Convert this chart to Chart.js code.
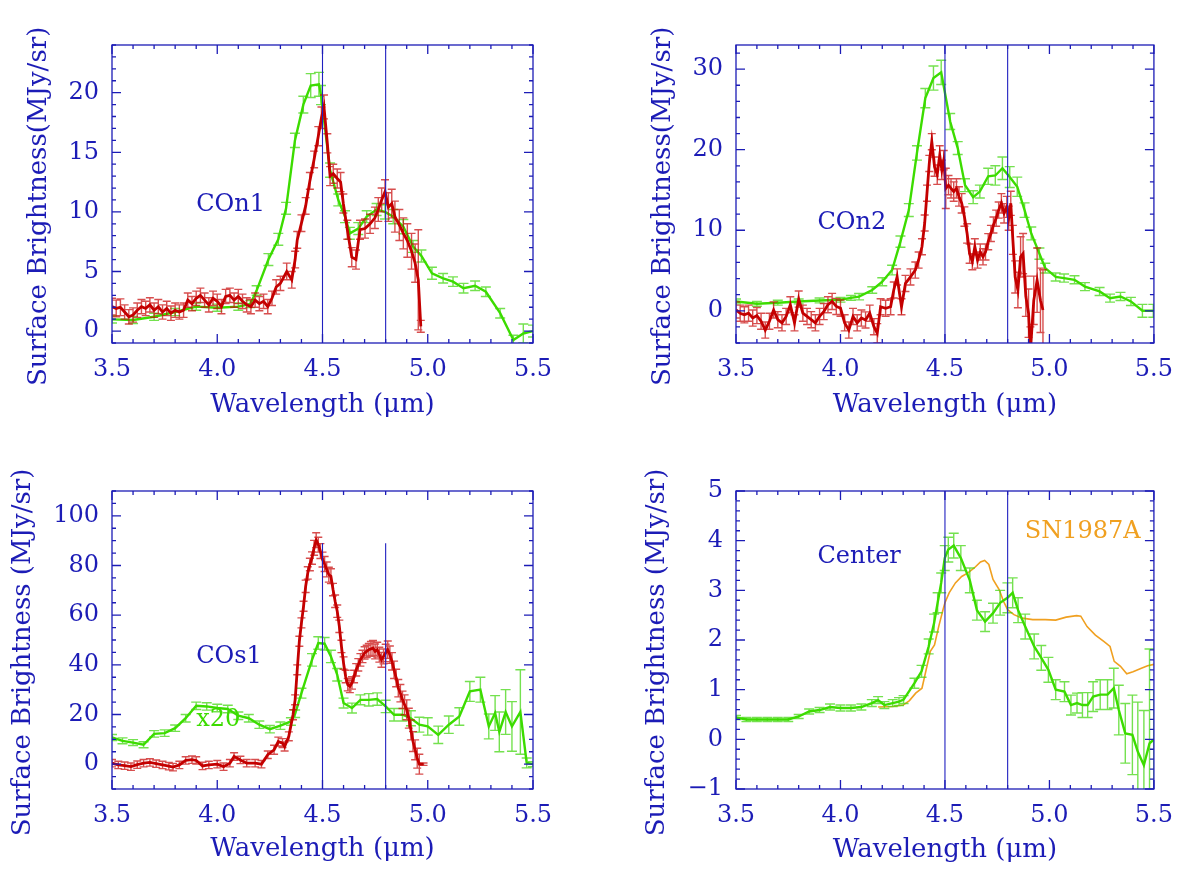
<!DOCTYPE html>
<html><head><meta charset="utf-8">
<script src="https://cdn.jsdelivr.net/npm/chart.js@4.4.1/dist/chart.umd.min.js"></script>
<style>
html,body{margin:0;padding:0;background:#fff;}
#wrap{position:relative;width:1185px;height:871px;overflow:hidden;background:#fff;}
canvas{position:absolute;}
</style></head><body>
<div id="wrap">
<canvas id="cTL" width="592" height="435" style="left:0px;top:0px"></canvas>
<canvas id="cTR" width="593" height="435" style="left:592px;top:0px"></canvas>
<canvas id="cBL" width="592" height="436" style="left:0px;top:435px"></canvas>
<canvas id="cBR" width="593" height="436" style="left:592px;top:435px"></canvas>
</div>
<script>
// ---------------- data: [wavelength (um), surface brightness, error] ----------------
const xTickValues = [3.5, 4.0, 4.5, 5.0, 5.5];
const con1YTicks = [0, 5, 10, 15, 20];
const con2YTicks = [0, 10, 20, 30];
const cos1YTicks = [0, 20, 40, 60, 80, 100];
const centerYTicks = [-1, 0, 1, 2, 3, 4, 5];
const markerWavelengths = [4.5, 4.8];
const cos1MarkerTop = 89;

const con1Green = [
 [3.50,0.98,0.3],[3.60,0.93,0.3],[3.70,1.2,0.3],[3.80,1.6,0.3],[3.90,2.05,0.3],[4.00,1.96,0.3],
 [4.10,2.05,0.3],[4.157,2.27,0.3],[4.187,3.4,0.4],[4.243,6.0,0.5],[4.29,7.7,0.5],[4.327,10.3,0.5],
 [4.369,16.0,0.6],[4.409,19.0,0.7],[4.444,20.6,1.0],[4.483,20.7,1.0],[4.493,19.8,0.8],[4.536,13.5,0.6],
 [4.575,11.0,0.5],[4.607,9.6,0.5],[4.63,8.2,0.5],[4.67,8.6,0.5],[4.71,9.6,0.5],[4.757,10.2,0.5],
 [4.797,10.0,0.6],[4.836,9.6,0.6],[4.884,8.76,0.6],[4.93,7.1,0.5],[4.97,6.3,0.5],[5.02,4.85,0.5],
 [5.073,4.43,0.4],[5.12,4.15,0.4],[5.17,3.6,0.4],[5.225,3.8,0.4],[5.276,3.3,0.4],[5.344,1.5,0.4],
 [5.407,-0.75,0.4],[5.454,-0.2,0.8],[5.50,0,0.5]
];
const con1Red = [
 [3.50,2.05,0.7],[3.52,1.9,0.7],[3.54,2.0,0.7],[3.56,1.6,0.6],[3.58,1.2,0.6],[3.60,1.35,0.6],
 [3.62,1.75,0.6],[3.64,2.05,0.6],[3.66,1.9,0.6],[3.68,2.2,0.6],[3.70,1.75,0.6],[3.72,2.05,0.6],
 [3.74,1.6,0.6],[3.76,1.9,0.6],[3.78,1.5,0.6],[3.80,1.75,0.6],[3.82,1.6,0.6],[3.84,1.75,0.6],
 [3.86,2.6,0.6],[3.88,2.3,0.6],[3.90,2.75,0.6],[3.92,3.0,0.6],[3.94,2.6,0.6],[3.96,2.2,0.6],
 [3.98,2.75,0.6],[4.00,2.5,0.6],[4.02,2.05,0.6],[4.04,2.9,0.6],[4.06,3.0,0.6],[4.08,2.6,0.6],
 [4.10,2.9,0.6],[4.12,2.5,0.6],[4.14,2.2,0.6],[4.16,2.05,0.6],[4.18,2.6,0.6],[4.20,2.3,0.6],
 [4.22,2.5,0.6],[4.24,2.05,0.6],[4.26,2.75,0.6],[4.28,3.7,0.6],[4.30,4.0,0.6],[4.33,5.0,0.7],
 [4.354,4.3,0.7],[4.37,6.0,0.7],[4.38,7.65,0.7],[4.40,9.05,0.7],[4.42,10.5,0.7],[4.44,12.6,0.7],
 [4.46,14.4,0.7],[4.48,16.35,0.8],[4.495,17.9,0.9],[4.507,18.8,1.0],[4.523,15.75,0.8],[4.536,13.0,0.8],
 [4.551,13.2,0.8],[4.57,12.8,0.8],[4.586,12.5,0.8],[4.599,10.7,0.8],[4.618,8.5,0.8],[4.639,6.2,0.8],
 [4.659,6.0,0.8],[4.678,8.5,0.8],[4.702,8.6,0.8],[4.726,9.0,0.8],[4.749,9.5,0.9],[4.765,10.2,1.0],
 [4.781,11.0,1.0],[4.797,11.7,1.0],[4.813,10.4,1.2],[4.829,10.7,1.2],[4.844,9.6,1.3],[4.865,8.9,1.3],
 [4.884,8.2,1.3],[4.903,7.6,1.4],[4.923,6.7,1.5],[4.94,5.7,1.6],[4.955,4.3,4.2],[4.967,0.4,0.5]
];
const con2Green = [
 [3.50,1.16,0.3],[3.60,0.87,0.3],[3.70,1.0,0.3],[3.80,1.16,0.3],[3.90,1.28,0.3],[4.00,1.37,0.3],
 [4.05,1.6,0.3],[4.089,1.75,0.4],[4.152,2.58,0.4],[4.2,3.61,0.5],[4.247,5.06,0.6],[4.287,8.58,0.7],
 [4.327,12.5,0.8],[4.366,19.6,0.9],[4.406,26.4,1.2],[4.445,28.9,1.5],[4.482,29.6,1.5],[4.525,23.5,1.0],
 [4.561,20.2,0.8],[4.596,15.6,0.8],[4.635,14.1,0.8],[4.667,14.8,0.8],[4.707,16.7,1.0],[4.741,16.8,1.2],
 [4.775,17.7,1.4],[4.81,16.6,1.3],[4.846,15.4,1.2],[4.881,12.5,0.9],[4.913,9.6,0.8],[4.952,7.1,0.7],
 [4.98,5.3,0.6],[5.03,4.2,0.5],[5.07,4.06,0.5],[5.12,3.85,0.5],[5.17,3.0,0.5],[5.24,2.4,0.5],
 [5.29,1.57,0.5],[5.34,1.78,0.5],[5.39,1.16,0.5],[5.445,0,0.8],[5.497,0,0.8]
];
const con2Red = [
 [3.50,0.1,1.0],[3.52,-0.3,1.0],[3.54,-0.5,1.0],[3.56,-0.3,1.0],[3.58,-0.9,1.0],[3.60,-0.6,1.0],
 [3.62,-1.3,1.0],[3.64,-2.4,1.0],[3.66,-1.3,1.0],[3.68,0.1,1.0],[3.70,-1.1,1.0],[3.72,-1.5,1.0],
 [3.74,-0.7,1.0],[3.76,0.75,1.0],[3.78,-1.5,1.0],[3.80,1.45,1.0],[3.82,-0.3,1.0],[3.84,-0.7,1.0],
 [3.86,-1.1,1.0],[3.88,-1.5,1.0],[3.90,-0.7,1.0],[3.92,-0.1,1.0],[3.94,0.75,1.0],[3.96,1.16,1.0],
 [3.98,0.54,1.0],[4.00,0.33,1.0],[4.02,-1.5,1.0],[4.04,-2.4,1.0],[4.06,-0.7,1.0],[4.08,-1.5,1.0],
 [4.10,-0.9,1.0],[4.12,-1.14,1.0],[4.14,-0.3,1.0],[4.16,-1.97,1.0],[4.176,-2.8,1.2],[4.192,0.5,1.0],
 [4.216,0.3,1.0],[4.24,0.5,1.0],[4.255,2.58,1.0],[4.271,4.2,1.0],[4.292,0.5,1.0],[4.311,3.4,1.0],
 [4.335,4.2,1.0],[4.358,5.06,1.0],[4.374,6.3,1.0],[4.39,7.95,1.0],[4.403,10.9,1.0],[4.414,14.6,1.0],
 [4.425,18.3,1.0],[4.437,21.0,1.0],[4.45,17.9,1.2],[4.463,16.9,1.2],[4.475,19.3,1.2],[4.485,17.5,1.2],
 [4.494,18.7,1.2],[4.504,15.2,2.5],[4.517,15.6,1.2],[4.529,15.2,1.2],[4.542,14.8,1.2],[4.555,15.2,1.2],
 [4.567,14.2,1.2],[4.58,13.35,1.2],[4.593,11.7,1.2],[4.606,9.6,1.2],[4.618,7.1,1.2],[4.631,6.1,1.0],
 [4.643,7.95,1.0],[4.656,6.3,1.0],[4.669,7.3,1.0],[4.682,6.7,1.0],[4.694,7.3,1.0],[4.707,8.58,1.0],
 [4.72,9.6,1.0],[4.732,10.65,1.0],[4.745,11.5,1.0],[4.757,12.5,1.0],[4.77,13.35,1.2],[4.783,12.1,1.2],
 [4.796,12.9,1.3],[4.805,11.5,1.5],[4.815,13.35,1.5],[4.825,8.8,1.8],[4.836,4.2,2.0],[4.849,2.58,2.2],
 [4.862,6.7,2.5],[4.874,7.1,2.5],[4.887,1.8,2.5],[4.9,-0.3,3.0],[4.909,-5.0,3.0],[4.925,1.3,3.0],
 [4.941,3.8,4.0],[4.957,1.3,4.0],[4.969,0.1,5.0]
];
const cos1Green = [
 [3.50,10.75,1.2],[3.55,9.4,1.2],[3.60,8.7,1.2],[3.65,7.8,1.2],[3.70,12.2,1.3],[3.75,12.5,1.3],
 [3.80,14.5,1.3],[3.85,18.5,1.5],[3.90,23.5,1.5],[3.95,23.25,1.5],[4.00,22.6,1.5],[4.05,22.2,1.5],
 [4.10,19.5,1.5],[4.15,18.5,1.5],[4.20,15.9,1.5],[4.25,14.1,1.5],[4.30,15.5,1.5],[4.35,17.2,1.5],
 [4.37,20.3,1.5],[4.40,28.6,2.0],[4.45,42.0,2.5],[4.48,48.8,2.5],[4.51,48.5,2.5],[4.54,43.4,2.5],
 [4.57,36.0,2.5],[4.60,24.6,2.0],[4.64,22.6,2.0],[4.68,25.9,2.0],[4.72,25.9,2.5],[4.76,26.2,2.5],
 [4.80,23.25,2.5],[4.84,19.9,2.5],[4.88,19.9,2.5],[4.92,18.5,3.0],[4.96,15.9,3.0],[5.00,15.2,3.5],
 [5.05,11.8,3.5],[5.10,15.9,3.5],[5.15,19.2,3.5],[5.20,29.3,4.0],[5.25,30.0,5.0],[5.29,15.2,5.0],
 [5.32,20.6,7.0],[5.34,13.0,8.0],[5.37,21.0,9.0],[5.40,15.2,10.0],[5.44,21.0,17.0],[5.47,0.5,2.0],
 [5.50,0,1.0]
];
const cos1Red = [
 [3.50,0.4,1.5],[3.53,-0.3,1.5],[3.56,-0.6,1.5],[3.59,-1.0,1.5],[3.62,-0.2,1.5],[3.65,0.4,1.5],
 [3.68,0.7,1.5],[3.71,0.2,1.5],[3.74,-0.3,1.5],[3.77,-0.8,1.5],[3.79,-1.2,1.5],[3.82,-0.3,1.5],
 [3.85,1.5,1.5],[3.88,1.8,1.5],[3.90,1.5,1.5],[3.93,-0.7,1.5],[3.96,-0.3,1.5],[4.00,0,1.5],
 [4.03,-1.0,1.5],[4.06,0.4,1.5],[4.08,3.1,1.5],[4.11,1.7,1.5],[4.14,0.4,1.5],[4.18,0.4,1.5],
 [4.21,0,1.5],[4.24,3.8,1.5],[4.27,5.8,1.8],[4.29,9.1,1.8],[4.31,8.5,1.8],[4.32,7.1,1.8],
 [4.34,11.2,1.8],[4.36,19.9,2.0],[4.37,25.9,2.0],[4.38,38.0,2.0],[4.39,49.5,2.0],[4.40,56.9,2.0],
 [4.41,63.6,2.0],[4.42,71.6,2.5],[4.43,77.0,2.5],[4.44,80.4,2.5],[4.45,83.0,2.5],[4.46,87.1,3.0],
 [4.47,90.2,3.0],[4.48,88.4,3.0],[4.49,85.8,3.0],[4.50,82.4,3.0],[4.51,80.6,3.0],[4.52,78.4,3.0],
 [4.53,76.3,3.0],[4.54,75.7,3.0],[4.55,70.3,2.5],[4.56,65.6,2.5],[4.57,61.6,2.5],[4.58,55.5,2.5],
 [4.59,47.4,2.5],[4.60,40.7,2.5],[4.61,35.3,2.5],[4.62,32.0,2.5],[4.63,31.3,2.5],[4.64,32.7,2.5],
 [4.65,35.3,2.5],[4.66,38.0,2.5],[4.67,40.0,2.5],[4.68,42.0,2.5],[4.69,43.4,2.5],[4.70,44.8,2.5],
 [4.71,45.4,2.5],[4.72,46.1,2.5],[4.73,46.4,3.0],[4.74,46.8,3.0],[4.75,45.4,3.0],[4.76,46.1,3.0],
 [4.77,44.1,3.0],[4.78,42.0,3.0],[4.79,43.4,3.0],[4.80,44.8,3.5],[4.81,46.1,3.5],[4.82,44.1,3.5],
 [4.83,41.4,3.5],[4.84,38.0,3.5],[4.85,34.7,3.5],[4.86,30.6,3.5],[4.87,28.6,3.5],[4.88,25.9,3.5],
 [4.89,23.9,4.0],[4.90,21.9,4.0],[4.91,18.5,4.0],[4.92,13.8,4.0],[4.93,9.1,4.0],[4.94,5.8,4.0],
 [4.95,2.4,4.0],[4.96,0,4.0],[4.98,0,0.5]
];
const centerGreen = [
 [3.50,0.44,0.04],[3.55,0.40,0.04],[3.60,0.40,0.04],[3.65,0.40,0.04],[3.70,0.40,0.04],[3.75,0.40,0.04],
 [3.80,0.46,0.04],[3.85,0.56,0.05],[3.90,0.59,0.05],[3.95,0.65,0.06],[4.00,0.63,0.06],[4.05,0.63,0.06],
 [4.10,0.65,0.06],[4.15,0.73,0.07],[4.18,0.79,0.07],[4.21,0.69,0.07],[4.25,0.73,0.07],[4.28,0.76,0.08],
 [4.302,0.80,0.08],[4.354,1.13,0.1],[4.388,1.37,0.12],[4.422,1.87,0.15],[4.448,2.34,0.18],[4.465,2.75,0.2],
 [4.482,3.15,0.2],[4.499,3.65,0.25],[4.516,3.82,0.25],[4.542,3.9,0.25],[4.576,3.65,0.25],[4.619,3.2,0.25],
 [4.653,2.6,0.2],[4.692,2.37,0.2],[4.73,2.54,0.2],[4.764,2.75,0.25],[4.799,2.85,0.3],[4.824,2.95,0.3],
 [4.85,2.6,0.25],[4.884,2.27,0.25],[4.927,1.87,0.25],[4.961,1.64,0.25],[4.995,1.4,0.25],[5.03,1.0,0.2],
 [5.072,0.96,0.2],[5.103,0.69,0.2],[5.132,0.73,0.2],[5.158,0.69,0.25],[5.183,0.69,0.25],[5.209,0.86,0.3],
 [5.243,0.9,0.3],[5.278,0.9,0.3],[5.308,1.03,0.4],[5.332,0.59,0.5],[5.363,0.12,0.6],[5.397,0.09,0.8],
 [5.423,-0.25,1.0],[5.452,-0.52,1.1],[5.479,-0.08,1.9],[5.50,0,1.0]
];
const sn1987a = [
 [4.18,0.65],[4.25,0.66],[4.30,0.69],[4.33,0.78],[4.36,0.93],[4.39,1.03],[4.41,1.4],[4.43,1.77],
 [4.45,1.9],[4.47,2.27],[4.49,2.6],[4.50,2.75],[4.52,2.95],[4.55,3.15],[4.58,3.28],[4.61,3.35],
 [4.64,3.45],[4.67,3.57],[4.69,3.6],[4.71,3.52],[4.73,3.22],[4.76,3.01],[4.78,2.78],[4.80,2.61],
 [4.83,2.51],[4.87,2.44],[4.92,2.41],[4.98,2.41],[5.03,2.4],[5.08,2.46],[5.13,2.49],[5.15,2.48],
 [5.18,2.27],[5.22,2.1],[5.26,1.97],[5.29,1.87],[5.31,1.57],[5.34,1.47],[5.37,1.32],[5.40,1.36],
 [5.44,1.43],[5.47,1.48],[5.50,1.51]
];

// ---------------- styling ----------------
const BLUE = '#1c1cb6';
const RED = '#c40000';
const GREEN = '#3cdc00';
const ORANGE = '#f0a020';
const FONT = '"DejaVu Serif", serif';

const errorBars = {
  id: 'errorBars',
  beforeDatasetDraw(chart, args) {
    const ds = chart.data.datasets[args.index];
    if (!ds.errors) return;
    const {ctx, chartArea: a, scales: {x, y}} = chart;
    ctx.save();
    ctx.beginPath(); ctx.rect(a.left, a.top, a.right - a.left, a.bottom - a.top); ctx.clip();
    ctx.strokeStyle = ds.errColor; ctx.lineWidth = 1.4;
    ctx.beginPath();
    ds.data.forEach((p, i) => {
      const e = ds.errors[i];
      const px = x.getPixelForValue(p.x);
      const y1 = y.getPixelForValue(p.y - e), y2 = y.getPixelForValue(p.y + e);
      ctx.moveTo(px, y1); ctx.lineTo(px, y2);
      ctx.moveTo(px - ds.cap, y1); ctx.lineTo(px + ds.cap, y1);
      ctx.moveTo(px - ds.cap, y2); ctx.lineTo(px + ds.cap, y2);
    });
    ctx.stroke();
    ctx.restore();
  }
};

function stepValues(min, max, step) {
  const out = [];
  const k0 = Math.ceil(min / step - 1e-6), k1 = Math.floor(max / step + 1e-6);
  for (let k = k0; k <= k1; k++) out.push(k * step);
  return out;
}

const frameTicks = {
  id: 'frameTicks',
  afterDraw(chart, args, opts) {
    const {ctx, chartArea: a, scales: {x, y}} = chart;
    ctx.save();
    ctx.strokeStyle = BLUE; ctx.lineWidth = 1.3;
    ctx.strokeRect(a.left, a.top, a.right - a.left, a.bottom - a.top);
    ctx.beginPath();
    const tx = (v, len) => { const p = x.getPixelForValue(v); ctx.moveTo(p, a.bottom); ctx.lineTo(p, a.bottom - len); ctx.moveTo(p, a.top); ctx.lineTo(p, a.top + len); };
    const ty = (v, len) => { const p = y.getPixelForValue(v); ctx.moveTo(a.left, p); ctx.lineTo(a.left + len, p); ctx.moveTo(a.right, p); ctx.lineTo(a.right - len, p); };
    stepValues(x.min, x.max, opts.xMinor).forEach(v => tx(v, 4));
    x.ticks.forEach(t => tx(t.value, 9));
    stepValues(y.min, y.max, opts.yMinor).forEach(v => ty(v, 4));
    y.ticks.forEach(t => ty(t.value, 9));
    ctx.stroke();
    ctx.restore();
  }
};

const panelLabels = {
  id: 'panelLabels',
  afterDatasetsDraw(chart, args, opts) {
    const {ctx, scales: {x, y}} = chart;
    ctx.save();
    ctx.font = '24px ' + FONT;
    ctx.textAlign = 'left'; ctx.textBaseline = 'middle';
    (opts.items || []).forEach(it => {
      ctx.fillStyle = it.color;
      ctx.fillText(it.text, x.getPixelForValue(it.x), y.getPixelForValue(it.y));
    });
    ctx.restore();
  }
};

function toXY(arr) { return arr.map(p => ({x: p[0], y: p[1]})); }

function makePanel(id, cfg) {
  const datasets = [];
  markerWavelengths.forEach(m => datasets.push({
    data: [{x: m, y: cfg.yMin}, {x: m, y: cfg.markerTop !== undefined ? cfg.markerTop : cfg.yMax}],
    borderColor: '#2020c0', borderWidth: 1.1, pointRadius: 0, clip: 0
  }));
  cfg.series.forEach(s => datasets.push({
    data: toXY(s.points),
    errors: s.withErr ? s.points.map(p => p[2]) : null,
    errColor: s.errColor, cap: s.cap,
    borderColor: s.color, borderWidth: s.width, pointRadius: 0, tension: 0, clip: 0
  }));
  new Chart(document.getElementById(id), {
    type: 'line',
    data: {datasets},
    options: {
      responsive: false, animation: false, devicePixelRatio: 1,
      layout: {padding: {left: 0, top: cfg.top, right: cfg.right, bottom: 0}},
      plugins: {
        legend: {display: false}, tooltip: {enabled: false},
        frameTicks: {xMinor: 0.1, yMinor: cfg.yMinor},
        panelLabels: {items: cfg.labels}
      },
      scales: {
        x: {
          type: 'linear', min: 3.5, max: 5.5,
          afterBuildTicks: s => { s.ticks = xTickValues.map(v => ({value: v})); },
          afterFit: s => { s.height = cfg.xHeight; },
          grid: {display: false, drawTicks: false}, border: {display: false},
          ticks: {color: BLUE, font: {family: FONT, size: 24}, padding: 12, autoSkip: false, maxRotation: 0,
                  callback: v => Number(v).toFixed(1)},
          title: {display: true, text: 'Wavelength (μm)', color: BLUE, font: {family: FONT, size: 26},
                  padding: {top: 0, bottom: cfg.xTitlePad}}
        },
        y: {
          type: 'linear', min: cfg.yMin, max: cfg.yMax,
          afterBuildTicks: s => { s.ticks = cfg.yTicks.map(v => ({value: v})); },
          afterFit: s => { s.width = cfg.left; },
          grid: {display: false, drawTicks: false}, border: {display: false},
          ticks: {color: BLUE, font: {family: FONT, size: 24}, padding: 13, autoSkip: false,
                  callback: v => v < 0 ? '\u2212' + (-v) : String(v)},
          title: {display: true, text: cfg.yTitle + '   ', color: BLUE, font: {family: FONT, size: 26},
                  padding: {top: cfg.yTitlePad, bottom: 0}}
        }
      }
    },
    plugins: [errorBars, frameTicks, panelLabels]
  });
}

const redStyle = {color: RED, width: 2.8, errColor: 'rgba(200,10,10,0.72)', cap: 4, withErr: true};
const greenStyle = {color: GREEN, width: 2.4, errColor: 'rgba(70,215,20,0.75)', cap: 5, withErr: true};

makePanel('cTL', {
  top: 45, right: 59, left: 112, xHeight: 92, xTitlePad: 14, yTitlePad: 24,
  yMin: -1, yMax: 24, yTicks: con1YTicks, yMinor: 1,
  yTitle: 'Surface Brightness(MJy/sr)',
  series: [Object.assign({points: con1Red}, redStyle), Object.assign({points: con1Green}, greenStyle)],
  labels: [{text: 'COn1', x: 3.9, y: 10.6, color: BLUE}]
});
makePanel('cTR', {
  top: 45, right: 28, left: 144, xHeight: 92, xTitlePad: 14, yTitlePad: 56,
  yMin: -4, yMax: 33, yTicks: con2YTicks, yMinor: 2,
  yTitle: 'Surface Brightness(MJy/sr)',
  series: [Object.assign({points: con2Red}, redStyle), Object.assign({points: con2Green}, greenStyle)],
  labels: [{text: 'COn2', x: 3.89, y: 10.9, color: BLUE}]
});
makePanel('cBL', {
  top: 56, right: 59, left: 112, xHeight: 82, xTitlePad: 6, yTitlePad: 8,
  yMin: -10, yMax: 110, yTicks: cos1YTicks, yMinor: 5, markerTop: cos1MarkerTop,
  yTitle: 'Surface Brightness (MJy/sr)',
  series: [Object.assign({points: cos1Red}, redStyle), Object.assign({points: cos1Green}, greenStyle)],
  labels: [{text: 'COs1', x: 3.9, y: 43.2, color: BLUE}, {text: 'x20', x: 3.9, y: 17.8, color: GREEN}]
});
makePanel('cBR', {
  top: 56, right: 28, left: 144, xHeight: 82, xTitlePad: 5, yTitlePad: 50,
  yMin: -1, yMax: 5, yTicks: centerYTicks, yMinor: 0.2,
  yTitle: 'Surface Brightness (MJy/sr)',
  series: [Object.assign({points: centerGreen}, greenStyle),
           {points: sn1987a, color: ORANGE, width: 1.6, withErr: false}],
  labels: [{text: 'Center', x: 3.89, y: 3.67, color: BLUE}, {text: 'SN1987A', x: 4.882, y: 4.17, color: ORANGE}]
});
</script>
</body></html>
